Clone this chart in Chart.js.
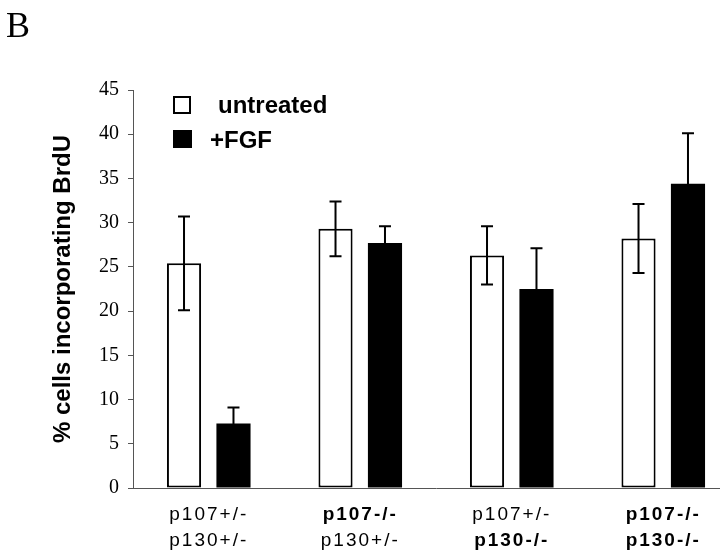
<!DOCTYPE html>
<html>
<head>
<meta charset="utf-8">
<script src="https://cdn.jsdelivr.net/npm/chart.js@4.4.1/dist/chart.umd.min.js"></script>
<style>
  html, body { margin: 0; padding: 0; background: #fff; overflow: hidden; }
  /* the figure is cropped on the right, like the scanned original */
  #wrap { width: 720px; height: 556px; overflow: hidden; }
</style>
</head>
<body>
<div id="wrap"><canvas id="chart" width="740" height="556"></canvas></div>
<script>
// genotype labels, two lines per group
const genotypeLine1 = ['p107+/-', 'p107-/-', 'p107+/-', 'p107-/-'];
const genotypeLine2 = ['p130+/-', 'p130+/-', 'p130-/-', 'p130-/-'];
const line1Bold = [false, true, false, true];
const line2Bold = [false, false, true, true];

const seriesNames = ['untreated', '+FGF'];
const untreated = [25.4, 29.3, 26.3, 28.2];
const untreatedErr = [5.3, 3.1, 3.3, 3.9];
const fgf = [7.3, 27.7, 22.5, 34.4];
const fgfErr = [1.8, 1.9, 4.6, 5.7];

const SANS = '"Liberation Sans", Arial, Helvetica, sans-serif';
const SERIF = '"Liberation Serif", "Times New Roman", serif';

// error bars drawn from the data through the y scale
const errorBars = {
    id: 'errorBars',
    beforeDraw(chart) {
        chart.ctx.letterSpacing = '0px';
    },
    afterDatasetsDraw(chart) {
        const ctx = chart.ctx;
        const yScale = chart.scales.y;
        ctx.save();
        ctx.strokeStyle = '#000';
        ctx.lineWidth = 2;
        chart.data.datasets.forEach((ds, di) => {
            const meta = chart.getDatasetMeta(di);
            meta.data.forEach((bar, i) => {
                const v = ds.data[i], e = ds.errors[i];
                const top = yScale.getPixelForValue(v + e);
                const bot = yScale.getPixelForValue(v - e);
                ctx.beginPath();
                ctx.moveTo(bar.x, top); ctx.lineTo(bar.x, bot);
                ctx.moveTo(bar.x - 6, top); ctx.lineTo(bar.x + 6, top);
                ctx.moveTo(bar.x - 6, bot); ctx.lineTo(bar.x + 6, bot);
                ctx.stroke();
            });
        });
        ctx.restore();
        // x labels (z = 1) are drawn next, with a little tracking
        ctx.letterSpacing = '2px';
    }
};

// panel letter and the in-plot legend
const decorations = {
    id: 'decorations',
    afterDraw(chart) {
        const ctx = chart.ctx;
        const a = chart.chartArea;
        ctx.save();
        ctx.letterSpacing = '0px';
        ctx.fillStyle = '#000';
        ctx.textBaseline = 'alphabetic';
        ctx.font = '36px ' + SERIF;
        ctx.fillText('B', 6, 37);

        const sx = a.left + 40;
        // untreated: open square
        ctx.strokeStyle = '#000';
        ctx.lineWidth = 2;
        ctx.strokeRect(sx + 1, a.top + 7, 16, 16);
        // +FGF: filled square
        ctx.fillRect(sx, a.top + 40, 19, 18);

        ctx.font = 'bold 24px ' + SANS;
        ctx.fillText(seriesNames[0], a.left + 85, a.top + 23);
        ctx.fillText(seriesNames[1], a.left + 77, a.top + 58);
        ctx.restore();
    }
};

const ctx = document.getElementById('chart').getContext('2d');
new Chart(ctx, {
    type: 'bar',
    data: {
        labels: genotypeLine1,
        datasets: [
            {
                label: seriesNames[0],
                data: untreated,
                errors: untreatedErr,
                backgroundColor: '#fff',
                borderColor: '#000',
                borderWidth: 2,
                borderSkipped: false,
                categoryPercentage: 0.653,
                barPercentage: 0.69
            },
            {
                label: seriesNames[1],
                data: fgf,
                errors: fgfErr,
                backgroundColor: '#000',
                borderColor: '#000',
                borderWidth: 0,
                categoryPercentage: 0.653,
                barPercentage: 0.69
            }
        ]
    },
    options: {
        responsive: false,
        animation: false,
        layout: { padding: { left: 0, top: 90, right: 1, bottom: 0 } },
        plugins: { legend: { display: false }, tooltip: { enabled: false } },
        scales: {
            y: {
                min: 0,
                max: 45,
                ticks: { stepSize: 5, color: '#000', padding: 9, font: { family: SERIF, size: 20 } },
                grid: { drawOnChartArea: false, tickLength: 5, color: '#555' },
                border: { color: '#555', width: 1 },
                title: {
                    display: true,
                    text: '% cells incorporating BrdU',
                    color: '#000',
                    font: { family: SANS, size: 24, weight: 'bold' },
                    padding: { top: 49, bottom: 0 }
                },
                afterFit(s) { s.width = 133; }
            },
            x: {
                offset: true,
                grid: { display: false, drawTicks: false },
                border: { display: true, color: '#555', width: 1 },
                ticks: {
                    z: 1,
                    color: '#000',
                    padding: 15,
                    font: c => ({ family: SANS, size: 19, weight: line1Bold[c.index] ? 'bold' : 'normal' })
                },
                afterFit(s) { s.height = 40; }
            },
            x2: {
                type: 'category',
                labels: genotypeLine2,
                position: 'bottom',
                weight: 1,
                offset: true,
                grid: { display: false, drawTicks: false },
                border: { display: false },
                ticks: {
                    z: 1,
                    color: '#000',
                    padding: 1,
                    font: c => ({ family: SANS, size: 19, weight: line2Bold[c.index] ? 'bold' : 'normal' })
                },
                afterFit(s) { s.height = 28; }
            }
        }
    },
    plugins: [errorBars, decorations]
});
</script>
</body>
</html>
